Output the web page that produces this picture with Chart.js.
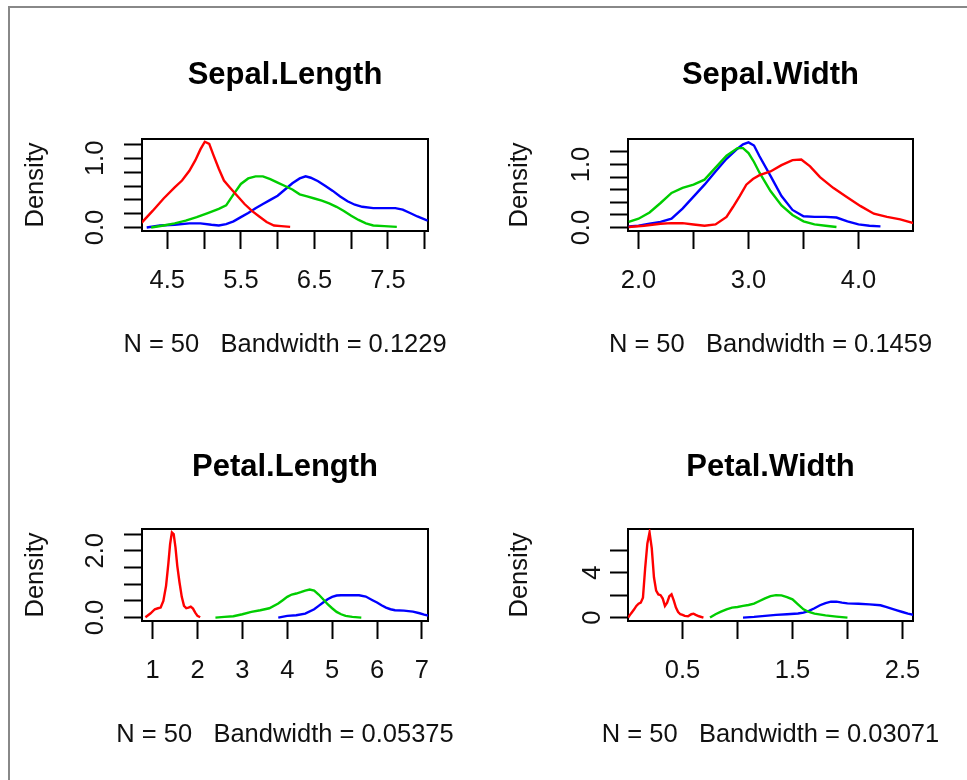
<!DOCTYPE html>
<html><head><meta charset="utf-8">
<script src="https://cdn.jsdelivr.net/npm/chart.js@4.4.0/dist/chart.umd.min.js"></script>
<style>
html,body{margin:0;padding:0;background:#fff;}
body{width:967px;height:780px;position:relative;overflow:hidden;}
#frame{position:absolute;left:8px;top:6px;width:980px;height:800px;border-top:2px solid #888;border-left:2px solid #888;}
canvas{position:absolute;}
</style></head><body>
<div id="frame"></div>
<canvas id="c1" width="570" height="390" style="left:0;top:0"></canvas>
<canvas id="c2" width="573" height="390" style="left:484px;top:0"></canvas>
<canvas id="c3" width="570" height="390" style="left:0;top:390px"></canvas>
<canvas id="c4" width="573" height="390" style="left:484px;top:390px"></canvas>
<script>
// ---- Sepal.Length densities ----
const slSetosaX = [4.10,4.16,4.30,4.45,4.60,4.70,4.80,4.88,4.95,5.01,5.07,5.13,5.20,5.27,5.35,5.45,5.55,5.65,5.75,5.85,5.95,6.05,6.17];
const slSetosaY = [0.10,0.08,0.24,0.42,0.58,0.68,0.82,0.97,1.13,1.24,1.21,1.04,0.85,0.68,0.58,0.46,0.34,0.24,0.16,0.08,0.03,0.02,0.01];
const slVersicolorX = [4.28,4.45,4.60,4.75,4.90,5.05,5.20,5.30,5.40,5.50,5.60,5.70,5.80,5.90,6.00,6.10,6.20,6.30,6.40,6.50,6.60,6.70,6.80,6.90,7.00,7.10,7.20,7.30,7.45,7.62];
const slVersicolorY = [0.00,0.03,0.06,0.10,0.15,0.21,0.27,0.32,0.48,0.63,0.71,0.74,0.74,0.70,0.65,0.60,0.55,0.48,0.45,0.42,0.39,0.35,0.30,0.24,0.17,0.11,0.06,0.03,0.02,0.01];
const slVirginicaX = [4.22,4.40,4.60,4.80,4.95,5.10,5.20,5.30,5.40,5.50,5.60,5.70,5.80,5.90,6.00,6.10,6.20,6.30,6.38,6.45,6.55,6.65,6.75,6.85,6.95,7.05,7.15,7.30,7.45,7.60,7.70,7.80,7.90,8.04];
const slVirginicaY = [0.00,0.03,0.04,0.06,0.06,0.04,0.03,0.05,0.09,0.15,0.21,0.28,0.34,0.40,0.46,0.55,0.64,0.71,0.74,0.72,0.67,0.60,0.53,0.45,0.38,0.33,0.30,0.28,0.28,0.28,0.26,0.21,0.16,0.10];
// ---- Sepal.Width densities ----
const swSetosaX = [1.91,2.05,2.20,2.30,2.40,2.50,2.60,2.70,2.80,2.86,2.92,2.98,3.04,3.10,3.20,3.30,3.40,3.48,3.56,3.65,3.77,3.89,4.02,4.14,4.26,4.38,4.50];
const swSetosaY = [0.01,0.03,0.06,0.07,0.07,0.05,0.03,0.05,0.17,0.33,0.50,0.68,0.77,0.83,0.89,0.99,1.07,1.08,0.97,0.80,0.63,0.49,0.34,0.22,0.17,0.13,0.07];
const swVersicolorX = [1.91,2.00,2.10,2.20,2.30,2.40,2.50,2.60,2.70,2.80,2.90,2.95,3.00,3.05,3.10,3.20,3.30,3.40,3.50,3.60,3.70,3.80];
const swVersicolorY = [0.09,0.14,0.24,0.39,0.55,0.63,0.68,0.76,0.95,1.14,1.26,1.26,1.18,1.04,0.87,0.58,0.35,0.20,0.10,0.05,0.03,0.01];
const swVirginicaX = [1.91,2.00,2.10,2.20,2.30,2.40,2.50,2.60,2.70,2.80,2.90,2.95,3.00,3.05,3.10,3.20,3.30,3.40,3.50,3.60,3.70,3.80,3.90,4.00,4.10,4.20];
const swVirginicaY = [0.02,0.03,0.06,0.09,0.14,0.30,0.49,0.68,0.89,1.09,1.25,1.32,1.35,1.30,1.13,0.82,0.50,0.28,0.18,0.17,0.17,0.16,0.10,0.05,0.03,0.02];
// ---- Petal.Length densities ----
const plSetosaX = [0.84,0.95,1.05,1.12,1.18,1.24,1.30,1.35,1.39,1.43,1.47,1.51,1.55,1.60,1.65,1.70,1.75,1.80,1.85,1.90,1.95,2.00,2.06];
const plSetosaY = [0.01,0.12,0.25,0.28,0.30,0.50,0.95,1.60,2.20,2.55,2.50,2.10,1.55,1.05,0.62,0.35,0.28,0.30,0.33,0.27,0.15,0.05,0.01];
const plVersicolorX = [2.40,2.60,2.80,3.00,3.20,3.40,3.60,3.80,3.90,4.00,4.10,4.20,4.30,4.40,4.50,4.60,4.70,4.80,4.90,5.00,5.10,5.20,5.30,5.45,5.65];
const plVersicolorY = [0.00,0.02,0.04,0.10,0.17,0.22,0.28,0.42,0.52,0.62,0.69,0.72,0.76,0.81,0.84,0.81,0.69,0.55,0.40,0.28,0.17,0.10,0.05,0.02,0.00];
const plVirginicaX = [3.80,4.00,4.20,4.40,4.60,4.70,4.80,4.90,5.00,5.10,5.20,5.40,5.60,5.75,5.90,6.00,6.10,6.20,6.30,6.40,6.60,6.80,6.95,7.05,7.15];
const plVirginicaY = [0.00,0.05,0.07,0.12,0.25,0.35,0.45,0.55,0.62,0.66,0.67,0.67,0.67,0.63,0.52,0.45,0.37,0.30,0.25,0.22,0.21,0.18,0.13,0.09,0.06];
// ---- Petal.Width densities ----
const pwSetosaX = [0.005,0.03,0.06,0.08,0.10,0.12,0.14,0.16,0.18,0.20,0.22,0.24,0.26,0.28,0.30,0.32,0.34,0.36,0.38,0.40,0.42,0.44,0.46,0.48,0.50,0.52,0.55,0.58,0.60,0.62,0.65,0.69];
const pwSetosaY = [0.00,0.35,0.74,1.04,1.24,1.33,1.78,4.40,6.60,7.60,6.20,3.60,2.40,2.07,2.00,1.70,1.04,1.33,1.90,2.07,1.54,0.90,0.50,0.30,0.24,0.15,0.12,0.30,0.35,0.24,0.12,0.00];
const pwVersicolorX = [0.75,0.80,0.85,0.90,0.95,1.00,1.05,1.10,1.15,1.20,1.25,1.30,1.35,1.40,1.45,1.50,1.55,1.60,1.65,1.70,1.80,1.90,2.00];
const pwVersicolorY = [0.00,0.30,0.53,0.74,0.89,0.95,1.04,1.12,1.24,1.48,1.72,1.92,2.00,1.98,1.83,1.63,1.18,0.74,0.50,0.35,0.20,0.09,0.00];
const pwVirginicaX = [1.05,1.15,1.25,1.35,1.45,1.55,1.60,1.65,1.70,1.75,1.80,1.85,1.90,1.95,2.00,2.10,2.20,2.30,2.35,2.40,2.45,2.50,2.55,2.60];
const pwVirginicaY = [0.00,0.06,0.15,0.24,0.30,0.36,0.44,0.60,0.83,1.10,1.30,1.42,1.42,1.33,1.27,1.24,1.18,1.10,0.95,0.80,0.65,0.50,0.35,0.24];

// ---- titles, axes, tick labels ----
const panelTitles = ["Sepal.Length","Sepal.Width","Petal.Length","Petal.Width"];
const panelSubs = ["N = 50   Bandwidth = 0.1229","N = 50   Bandwidth = 0.1459","N = 50   Bandwidth = 0.05375","N = 50   Bandwidth = 0.03071"];
const yAxisLabel = "Density";
const slXTicks = [4.5,5.0,5.5,6.0,6.5,7.0,7.5,8.0];
const slXLabels = ["4.5","","5.5","","6.5","","7.5",""];
const swXTicks = [2.0,2.5,3.0,3.5,4.0];
const swXLabels = ["2.0","","3.0","","4.0"];
const plXTicks = [1,2,3,4,5,6,7];
const plXLabels = ["1","2","3","4","5","6","7"];
const pwXTicks = [0.5,1.0,1.5,2.0,2.5];
const pwXLabels = ["0.5","","1.5","","2.5"];
const sepalYTicks = [0,0.2,0.4,0.6,0.8,1.0,1.2];
const sepalYLabels = ["0.0","","","","","1.0",""];
const plYTicks = [0,0.5,1.0,1.5,2.0,2.5];
const plYLabels = ["0.0","","","","2.0",""];
const pwYTicks = [0,2,4,6];
const pwYLabels = ["0","","4",""];
const slXRange = [4.156,8.044], swXRange = [1.904,4.496], plXRange = [0.764,7.136], pwXRange = [0.004,2.596];
const slYRange = [-0.05,1.28], swYRange = [-0.054,1.404], plYRange = [-0.102,2.652], pwYRange = [-0.304,7.904];
const speciesColors = ["#ff0000","#00cd00","#0000ff"];

Chart.defaults.font.family = '"Liberation Sans", Arial, sans-serif';
Chart.defaults.color = '#111';

const FONT = 25.5;
const TFONT = 31;
const boxPlugin = {
  id: 'rbox',
  beforeDatasetsDraw(chart) {
    const {ctx, chartArea: a} = chart;
    ctx.save();
    ctx.strokeStyle = '#000';
    ctx.lineWidth = 2;
    ctx.strokeRect(a.left, a.top, a.right - a.left, a.bottom - a.top);
    ctx.restore();
  }
};

function pts(xs, ys) { return xs.map((x, i) => ({x: x, y: ys[i]})); }

function makePanel(id, p) {
  const cv = document.getElementById(id);
  const W = cv.width, H = cv.height;
  const subH = 60, subPadBottom = 30;
  const titleLH = TFONT * 1.2;
  const titlePadTop = p.titleMid - titleLH / 2;
  const titlePadBottom = p.box[2] - titlePadTop - titleLH;
  const datasets = p.series.map((s, i) => ({
    data: pts(s[0], s[1]),
    borderColor: speciesColors[i],
    borderWidth: 2.4,
    pointRadius: 0,
    tension: 0,
    fill: false
  }));
  new Chart(cv, {
    type: 'scatter',
    data: {datasets},
    plugins: [boxPlugin],
    options: {
      responsive: false, animation: false, devicePixelRatio: 1,
      showLine: true,
      layout: {padding: 0},
      plugins: {
        legend: {display: false}, tooltip: {enabled: false},
        title: {display: true, text: p.title, color: '#000', position: 'top', align: 'center',
                font: {size: TFONT, weight: 'bold'}, padding: {top: titlePadTop, bottom: titlePadBottom}},
        subtitle: {display: true, text: p.sub, color: '#111', position: 'bottom', align: 'center',
                   font: {size: FONT, weight: 'normal'}, padding: {top: subH - subPadBottom - FONT * 1.2, bottom: subPadBottom}}
      },
      scales: {
        x: {
          type: 'linear', position: 'bottom', min: p.xr[0], max: p.xr[1],
          afterBuildTicks: s => { s.ticks = p.xt.map(v => ({value: v})); },
          afterFit: s => { s.height = H - p.box[3] - subH; s.paddingLeft = 0; s.paddingRight = 0; },
          ticks: {autoSkip: false, maxRotation: 0, minRotation: 0, padding: 17, color: '#111',
                  font: {size: FONT}, callback: (v, i) => p.xl[i]},
          grid: {display: true, drawOnChartArea: false, drawTicks: true, tickLength: 18, tickWidth: 2, tickColor: '#000'},
          border: {display: false}
        },
        y: {
          type: 'linear', position: 'left', min: p.yr[0], max: p.yr[1],
          afterBuildTicks: s => { s.ticks = p.yt.map(v => ({value: v})); },
          afterFit: s => { s.width = p.box[0]; s.paddingTop = 0; s.paddingBottom = 0; },
          ticks: {autoSkip: false, minRotation: 90, maxRotation: 90, crossAlign: 'center', padding: 10,
                  color: '#111', font: {size: FONT}, callback: (v, i) => p.yl[i]},
          grid: {display: true, drawOnChartArea: false, drawTicks: true, tickLength: 18, tickWidth: 2, tickColor: '#000'},
          border: {display: false},
          title: {display: true, text: yAxisLabel, color: '#111', font: {size: FONT}, padding: {top: 21, bottom: 0}}
        },
        yr: {
          type: 'linear', position: 'right', min: p.yr[0], max: p.yr[1],
          afterFit: s => { s.width = W - p.box[1]; s.paddingTop = 0; s.paddingBottom = 0; },
          ticks: {display: false}, grid: {display: false}, border: {display: false}
        }
      }
    }
  });
}

makePanel('c1', {title: panelTitles[0], sub: panelSubs[0], box: [142, 428, 139, 231], titleMid: 75,
  xr: slXRange, yr: slYRange, xt: slXTicks, xl: slXLabels, yt: sepalYTicks, yl: sepalYLabels,
  series: [[slSetosaX, slSetosaY], [slVersicolorX, slVersicolorY], [slVirginicaX, slVirginicaY]]});
makePanel('c2', {title: panelTitles[1], sub: panelSubs[1], box: [144, 429, 139, 231], titleMid: 75,
  xr: swXRange, yr: swYRange, xt: swXTicks, xl: swXLabels, yt: sepalYTicks, yl: sepalYLabels,
  series: [[swSetosaX, swSetosaY], [swVersicolorX, swVersicolorY], [swVirginicaX, swVirginicaY]]});
makePanel('c3', {title: panelTitles[2], sub: panelSubs[2], box: [142, 428, 139, 231], titleMid: 77,
  xr: plXRange, yr: plYRange, xt: plXTicks, xl: plXLabels, yt: plYTicks, yl: plYLabels,
  series: [[plSetosaX, plSetosaY], [plVersicolorX, plVersicolorY], [plVirginicaX, plVirginicaY]]});
makePanel('c4', {title: panelTitles[3], sub: panelSubs[3], box: [144, 429, 139, 231], titleMid: 77,
  xr: pwXRange, yr: pwYRange, xt: pwXTicks, xl: pwXLabels, yt: pwYTicks, yl: pwYLabels,
  series: [[pwSetosaX, pwSetosaY], [pwVersicolorX, pwVersicolorY], [pwVirginicaX, pwVirginicaY]]});
</script>
</body></html>
